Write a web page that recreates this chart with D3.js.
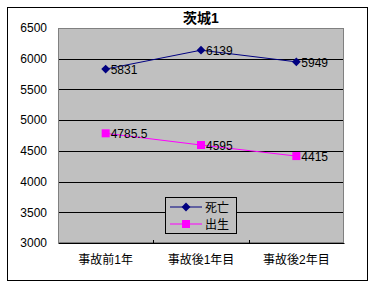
<!DOCTYPE html>
<html>
<head>
<meta charset="utf-8">
<script src="https://cdn.jsdelivr.net/npm/d3@7"></script>
<style>
body { margin: 0; background: #fff; }
text { font-family: "Liberation Sans", Arial, "Noto Sans CJK JP", sans-serif; }
</style>
</head>
<body>
<div id="chart"></div>
<script>
// chart data
var title = '茨城1';
var categories = ['事故前1年', '事故後1年目', '事故後2年目'];
var deaths = [5831, 6139, 5949];
var births = [4785.5, 4595, 4415];
var seriesNames = ['死亡', '出生'];
var yTicks = [3000, 3500, 4000, 4500, 5000, 5500, 6000, 6500];

var W = 377, H = 289;
var margin = { top: 28, right: 33, bottom: 46, left: 58 },
    width = W - margin.left - margin.right,
    height = H - margin.top - margin.bottom;

var svg = d3.select('#chart').append('svg')
    .attr('width', W)
    .attr('height', H);

// outer frame
svg.append('rect')
    .attr('x', 7.5).attr('y', 7.5)
    .attr('width', 360).attr('height', 273)
    .attr('fill', '#fff').attr('stroke', '#000');

svg.append('text')
    .attr('x', 201).attr('y', 23)
    .attr('text-anchor', 'middle')
    .style('font-size', '14px').style('font-weight', 'bold')
    .text(title);

var g = svg.append('g')
    .attr('transform', 'translate(' + margin.left + ',' + margin.top + ')');

var x = d3.scaleBand().domain(categories).range([0, width]);
var y = d3.scaleLinear().domain([3000, 6500]).range([height, 0]);

g.append('rect')
    .attr('width', width).attr('height', height)
    .attr('fill', '#c0c0c0');

// gridlines
g.selectAll('.grid')
    .data(yTicks.slice(1, -1))
    .enter().append('line')
    .attr('x1', 0).attr('x2', width)
    .attr('y1', function (d) { return Math.round(y(d)) + 0.5; })
    .attr('y2', function (d) { return Math.round(y(d)) + 0.5; })
    .attr('stroke', '#000');

g.append('rect')
    .attr('x', 0.5).attr('y', 0.5)
    .attr('width', width - 1).attr('height', height - 1)
    .attr('fill', 'none').attr('stroke', '#808080');

// y axis
var yAxis = g.append('g')
    .call(d3.axisLeft(y).tickValues(yTicks).tickSize(0).tickPadding(11).tickFormat(d3.format('d')));
yAxis.select('.domain').remove();
yAxis.selectAll('text').style('font-size', '12px').attr('fill', '#000');

// x axis
var xAxis = g.append('g')
    .attr('transform', 'translate(0,' + height + ')')
    .call(d3.axisBottom(x).tickSize(0).tickPadding(12));
xAxis.select('.domain').attr('stroke', '#000');
xAxis.selectAll('text').style('font-size', '12px').attr('fill', '#000');
g.selectAll('.xtick')
    .data(categories.slice(1))
    .enter().append('line')
    .attr('x1', function (d) { return Math.round(x(d)) + 0.5; })
    .attr('x2', function (d) { return Math.round(x(d)) + 0.5; })
    .attr('y1', height - 3).attr('y2', height)
    .attr('stroke', '#000');

var cx = function (d, i) { return x(categories[i]) + x.bandwidth() / 2; };
var line = d3.line()
    .x(function (d, i) { return cx(d, i); })
    .y(function (d) { return y(d); });

// deaths
g.append('path').datum(deaths)
    .attr('d', line).attr('fill', 'none').attr('stroke', '#000080');
g.selectAll('.dmark').data(deaths).enter().append('path')
    .attr('d', d3.symbol().type(d3.symbolDiamond2).size(50))
    .attr('transform', function (d, i) { return 'translate(' + cx(d, i) + ',' + y(d) + ')'; })
    .attr('fill', '#000080');
g.selectAll('.dlab').data(deaths).enter().append('text')
    .attr('x', function (d, i) { return cx(d, i) + 5; })
    .attr('y', function (d) { return y(d) + 5; })
    .style('font-size', '12px')
    .text(function (d) { return d; });

// births
g.append('path').datum(births)
    .attr('d', line).attr('fill', 'none').attr('stroke', '#ff00ff');
g.selectAll('.bmark').data(births).enter().append('rect')
    .attr('x', function (d, i) { return cx(d, i) - 4; })
    .attr('y', function (d) { return y(d) - 4; })
    .attr('width', 8).attr('height', 8)
    .attr('fill', '#ff00ff');
g.selectAll('.blab').data(births).enter().append('text')
    .attr('x', function (d, i) { return cx(d, i) + 5; })
    .attr('y', function (d) { return y(d) + 5; })
    .style('font-size', '12px')
    .text(function (d) { return d; });

// legend
var lg = svg.append('g').attr('transform', 'translate(165,197)');
lg.append('rect')
    .attr('x', 0.5).attr('y', 0.5).attr('width', 71).attr('height', 36)
    .attr('fill', '#c0c0c0').attr('stroke', '#000');
var colors = ['#000080', '#ff00ff'];
seriesNames.forEach(function (name, i) {
    var yy = 10 + i * 17;
    lg.append('line').attr('x1', 5).attr('x2', 37).attr('y1', yy).attr('y2', yy)
        .attr('stroke', colors[i]);
    if (i === 0) {
        lg.append('path').attr('d', d3.symbol().type(d3.symbolDiamond2).size(50))
            .attr('transform', 'translate(21,' + yy + ')').attr('fill', colors[i]);
    } else {
        lg.append('rect').attr('x', 17).attr('y', yy - 4).attr('width', 8).attr('height', 8)
            .attr('fill', colors[i]);
    }
    lg.append('text').attr('x', 40).attr('y', yy + 5)
        .style('font-size', '12px').text(name);
});
</script>
</body>
</html>
